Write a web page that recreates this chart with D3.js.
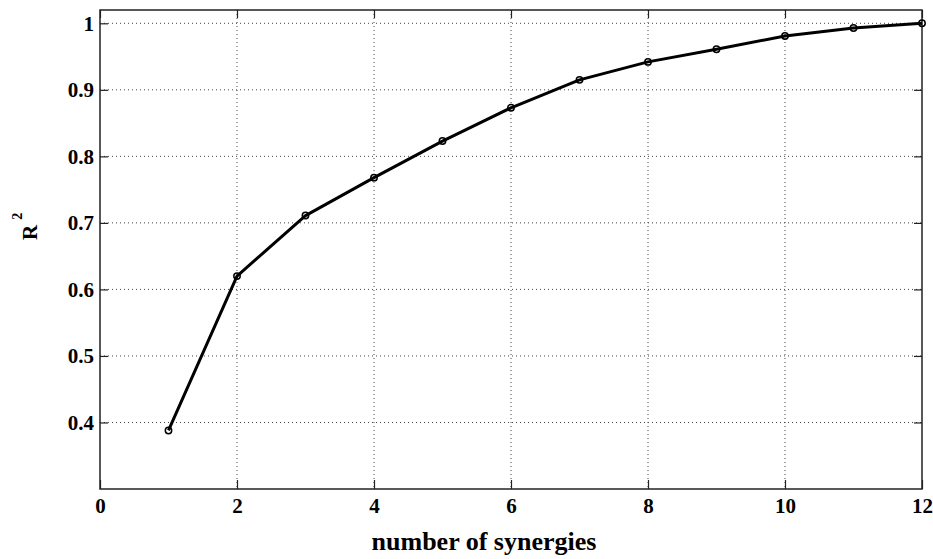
<!DOCTYPE html>
<html lang="en">
<head>
<meta charset="UTF-8">
<title>R2 vs number of synergies</title>
<script src="https://d3js.org/d3.v7.min.js"></script>
<style>
    body { margin: 0; background: #fff; }
    text { font-family: "Liberation Serif", "Times New Roman", serif; font-weight: bold; fill: #000; }
</style>
</head>
<body>
<div id="chart"></div>
<script>
    // data
    var synergies = [1, 2, 3, 4, 5, 6, 7, 8, 9, 10, 11, 12];
    var r2 = [0.388, 0.620, 0.711, 0.768, 0.823, 0.873, 0.915, 0.942, 0.961, 0.981, 0.993, 1.0];
    var xTicks = [0, 2, 4, 6, 8, 10, 12];
    var yTicks = [0.4, 0.5, 0.6, 0.7, 0.8, 0.9, 1];

    var W = 933, H = 559;
    // plot box edges (window.top is reserved, so not "top")
    var plotL = 100, plotR = 922, plotT = 10, plotB = 489;

    var svg = d3.select("#chart").append("svg")
        .attr("width", W)
        .attr("height", H);

    svg.append("rect").attr("width", W).attr("height", H).attr("fill", "#fff");

    var x = d3.scaleLinear().domain([0, 12]).range([plotL, plotR]);
    var y = d3.scaleLinear().domain([0.3, 1.02]).range([plotB, plotT]);

    // dotted grid
    var grid = svg.append("g")
        .attr("stroke", "#444")
        .attr("stroke-width", 1)
        .attr("stroke-dasharray", "1,3");

    grid.selectAll("line.gx")
        .data(xTicks.filter(d => d > 0 && d < 12))
        .enter().append("line")
        .attr("x1", d => x(d)).attr("x2", d => x(d))
        .attr("y1", plotT).attr("y2", plotB);

    grid.selectAll("line.gy")
        .data(yTicks)
        .enter().append("line")
        .attr("x1", plotL).attr("x2", plotR)
        .attr("y1", d => y(d)).attr("y2", d => y(d));

    // axes, ticks pointing inward like matlab
    function styleAxis(g) {
        g.selectAll("path").remove();
        g.selectAll(".tick line").attr("stroke", "#222").attr("stroke-width", 1.2);
        g.selectAll("text").style("font-size", "21px").attr("font-family", null);
    }

    svg.append("g")
        .attr("transform", "translate(0," + plotB + ")")
        .call(d3.axisBottom(x).tickValues(xTicks).tickSizeInner(-9).tickSizeOuter(0).tickPadding(9).tickFormat(d3.format("")))
        .call(styleAxis);

    svg.append("g")
        .attr("transform", "translate(" + plotL + ",0)")
        .call(d3.axisLeft(y).tickValues(yTicks).tickSizeInner(-8).tickSizeOuter(0).tickPadding(6).tickFormat(d3.format("")))
        .call(styleAxis);

    svg.append("g")
        .attr("transform", "translate(0," + plotT + ")")
        .call(d3.axisTop(x).tickValues(xTicks).tickSizeInner(-8).tickSizeOuter(0).tickFormat(""))
        .call(styleAxis);

    svg.append("g")
        .attr("transform", "translate(" + plotR + ",0)")
        .call(d3.axisRight(y).tickValues(yTicks).tickSizeInner(-8).tickSizeOuter(0).tickFormat(""))
        .call(styleAxis);

    // box
    svg.append("rect")
        .attr("x", plotL).attr("y", plotT)
        .attr("width", plotR - plotL).attr("height", plotB - plotT)
        .attr("fill", "none")
        .attr("stroke", "#222")
        .attr("stroke-width", 1.5);

    // the curve
    var line = d3.line()
        .x((d, i) => x(synergies[i]))
        .y(d => y(d));

    svg.append("path")
        .datum(r2)
        .attr("d", line)
        .attr("fill", "none")
        .attr("stroke", "#000")
        .attr("stroke-width", 3)
        .attr("stroke-linejoin", "round");

    svg.selectAll("circle.pt")
        .data(r2)
        .enter().append("circle")
        .attr("cx", (d, i) => x(synergies[i]))
        .attr("cy", d => y(d))
        .attr("r", 3.2)
        .attr("fill", "none")
        .attr("stroke", "#000")
        .attr("stroke-width", 1.5);

    // axis labels
    svg.append("text")
        .attr("x", 484)
        .attr("y", 550)
        .attr("text-anchor", "middle")
        .style("font-size", "26px")
        .text("number of synergies");

    var yl = svg.append("text")
        .attr("transform", "translate(37,240) rotate(-90)")
        .attr("text-anchor", "start")
        .style("font-size", "21px");
    yl.append("tspan").text("R");
    yl.append("tspan").attr("dx", 5).attr("dy", -15).style("font-size", "14px").text("2");
</script>
</body>
</html>
